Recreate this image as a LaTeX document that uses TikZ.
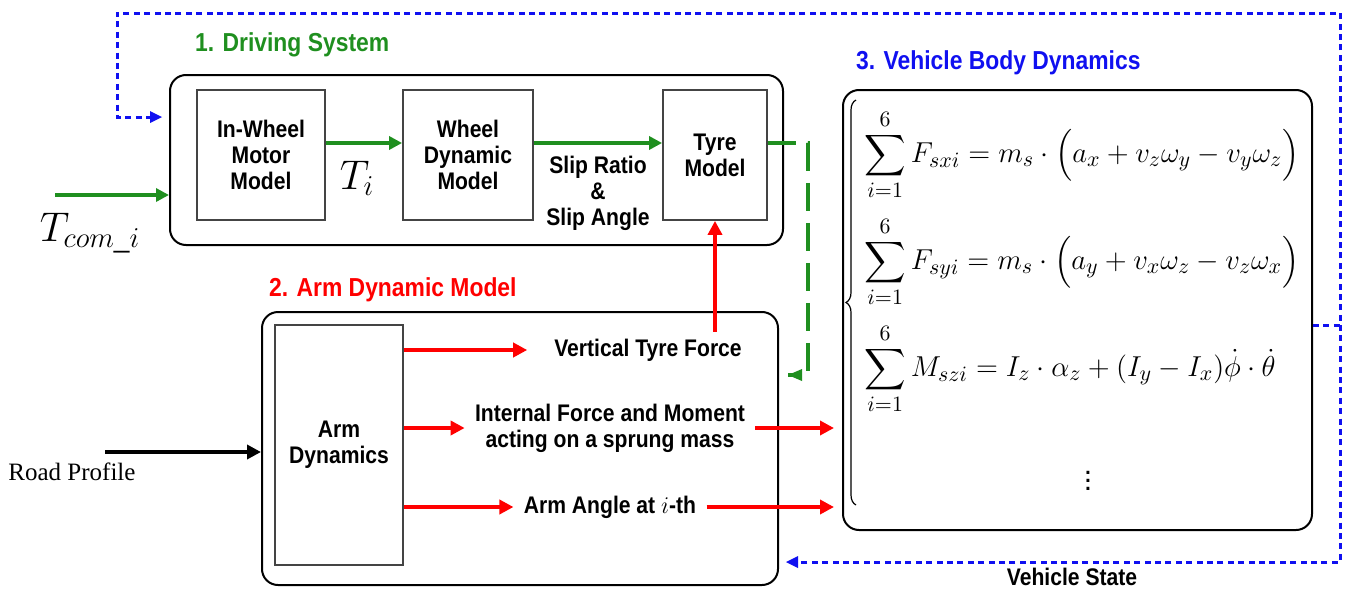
\documentclass[tikz,border=0pt]{standalone}
\usepackage{amsmath}
\usepackage{fontspec}
\setmainfont{Liberation Sans}
\newfontfamily\labfont[FakeStretch=0.88]{Liberation Sans}
\newfontfamily\roadfont{Liberation Serif}
\usetikzlibrary{positioning,arrows.meta,decorations.pathreplacing}
\definecolor{drvgreen}{HTML}{1F8F1F}
\definecolor{armred}{HTML}{FF0000}
\definecolor{vehblue}{HTML}{1010F0}
\definecolor{boxgray}{HTML}{444444}

\begin{document}
\begin{tikzpicture}[x=0.5pt,y=-0.5pt,
    lab/.style={font=\labfont\bfseries\fontsize{12}{13}\selectfont,align=center},
    ttl/.style={font=\labfont\bfseries\fontsize{13}{15}\selectfont,anchor=west},
    group/.style={draw,rounded corners=8pt,line width=1pt},
    block/.style={draw=boxgray,line width=0.9pt,lab},
    eqn/.style={font=\fontsize{15.5}{18}\selectfont,anchor=west,inner sep=0pt},
    garrow/.style={drvgreen,line width=1.7pt,-{Triangle[length=6.5pt,width=6.5pt]}},
    rarrow/.style={armred,line width=2pt,-{Triangle[length=7pt,width=7pt]}},
    karrow/.style={black,line width=2pt,-{Triangle[length=7pt,width=7pt]}},
    bdash/.style={vehblue,line width=1.5pt,dash pattern=on 3pt off 2.2pt},
    gdash/.style={drvgreen,line width=1.7pt,dash pattern=on 14pt off 6pt}]
  \useasboundingbox (0,0) rectangle (1349,589);

  % groups
  \node[group,minimum width=306.5pt,minimum height=85pt] (drv) at (476.5,160) {};
  \node[group,minimum width=258pt,minimum height=136.5pt] (arm) at (520,448.5) {};
  \node[group,minimum width=234.5pt,minimum height=220pt] (veh) at (1077.5,310) {};
  \node[ttl,drvgreen] (drvttl) at (188,45) {1. Driving System};
  \node[ttl,armred] (armttl) at (262,290) {2. Arm Dynamic Model};
  \node[ttl,vehblue] (vehttl) at (849,63) {3. Vehicle Body Dynamics};

  % driving system
  \node[block,minimum width=64pt,minimum height=65pt] (iwm) at (261,155) {In-Wheel\\Motor\\Model};
  \node[block,minimum width=65pt,minimum height=65pt] (wdm) at (468,155) {Wheel\\Dynamic\\Model};
  \node[block,minimum width=52pt,minimum height=65pt] (tyre) at (715,155) {Tyre\\Model};
  \node[font=\fontsize{20}{24}\selectfont] (ti) at (357,178) {$T_{i}$};
  \node[lab] (slip) at (598,193) {Slip Ratio\\\&\\Slip Angle};
  \node[font=\fontsize{20}{24}\selectfont] (tcom) at (90,233) {$T_{com\_i}$};
  \coordinate (tin) at (55,195);
  \draw[garrow] (tin) -- (tin -| drv.west);
  \draw[garrow] ([yshift=6pt]iwm.east) -- ([yshift=6pt]wdm.west);
  \draw[garrow] ([yshift=6pt]wdm.east) -- ([yshift=6pt]tyre.west);

  % arm dynamic model
  \node[block,minimum width=64pt,minimum height=120pt] (armdyn) at (339,445) {Arm\\Dynamics};
  \node[lab] (vtf) at (648,350) {Vertical Tyre Force};
  \node[lab,inner sep=5pt] (ifm) at (610,428) {Internal Force and Moment\\acting on a sprung mass};
  \node[lab,inner sep=5pt] (aa) at (610,507) {Arm Angle at $i$-th};
  \node[font=\roadfont\fontsize{12.5}{15}\selectfont] (road) at (72,472) {Road Profile};
  \coordinate (rp) at (105,452);
  \draw[karrow] (rp) -- (rp -| arm.west);
  \draw[rarrow] (armdyn.east |- vtf) -- ([xshift=-10pt]vtf.west);
  \draw[rarrow] (armdyn.east |- ifm) -- (ifm.west);
  \draw[rarrow] (armdyn.east |- aa) -- (aa.west);
  \draw[rarrow] (ifm.east) -- ([xshift=-4pt]ifm.east -| veh.west);
  \draw[rarrow] (aa.east) -- ([xshift=-4pt]aa.east -| veh.west);
  \draw[rarrow] (vtf.north -| tyre.south) -- (tyre.south);

  % tyre force back to arm
  \coordinate (gd) at (808,375);
  \draw[gdash] ([yshift=6pt]tyre.east) -| (gd) -- ([xshift=4.5pt]gd -| arm.east);
  \fill[drvgreen] ([xshift=4.5pt]gd -| arm.east) -- ++(14,-6) -- ++(0,12) -- cycle;

  % vehicle body equations
  \draw[line width=0.6pt,decorate,decoration={brace,amplitude=5pt}] (856,505) -- (856,100);
  \node[eqn] (eq1) at (864,155) {$\displaystyle\sum_{i=1}^{6}F_{sxi}=m_s\cdot\Bigl(a_x+v_z\omega_y-v_y\omega_z\Bigr)$};
  \node[eqn] (eq2) at (864,262) {$\displaystyle\sum_{i=1}^{6}F_{syi}=m_s\cdot\Bigl(a_y+v_x\omega_z-v_z\omega_x\Bigr)$};
  \node[eqn] (eq3) at (864,369) {$\displaystyle\sum_{i=1}^{6}M_{szi}=I_z\cdot\alpha_z+(I_y-I_x)\dot{\phi}\cdot\dot{\theta}$};
  \node[font=\fontsize{15}{18}\selectfont] (dots) at (1088,475) {$\vdots$};

  % vehicle state feedback
  \coordinate (fb) at (1340,325);
  \coordinate (ftop) at (1340,13);
  \coordinate (fleft) at (117,13);
  \coordinate (fin) at (117,117);
  \coordinate (fbot) at (1340,562);
  \draw[bdash] (veh.east |- fb) -- (fb) -- (ftop) -- (fleft) -- (fin) -- ([xshift=-7pt]fin -| drv.west);
  \fill[vehblue] ([xshift=-3.5pt]fin -| drv.west) -- ++(-12,-6) -- ++(0,12) -- cycle;
  \draw[bdash] (fb) -- (fbot) -- ([xshift=7pt]fbot -| arm.east);
  \fill[vehblue] ([xshift=3.5pt]fbot -| arm.east) -- ++(12,-6) -- ++(0,12) -- cycle;
  \node[lab] (vstate) at (1072,577) {Vehicle State};
\end{tikzpicture}
\end{document}
